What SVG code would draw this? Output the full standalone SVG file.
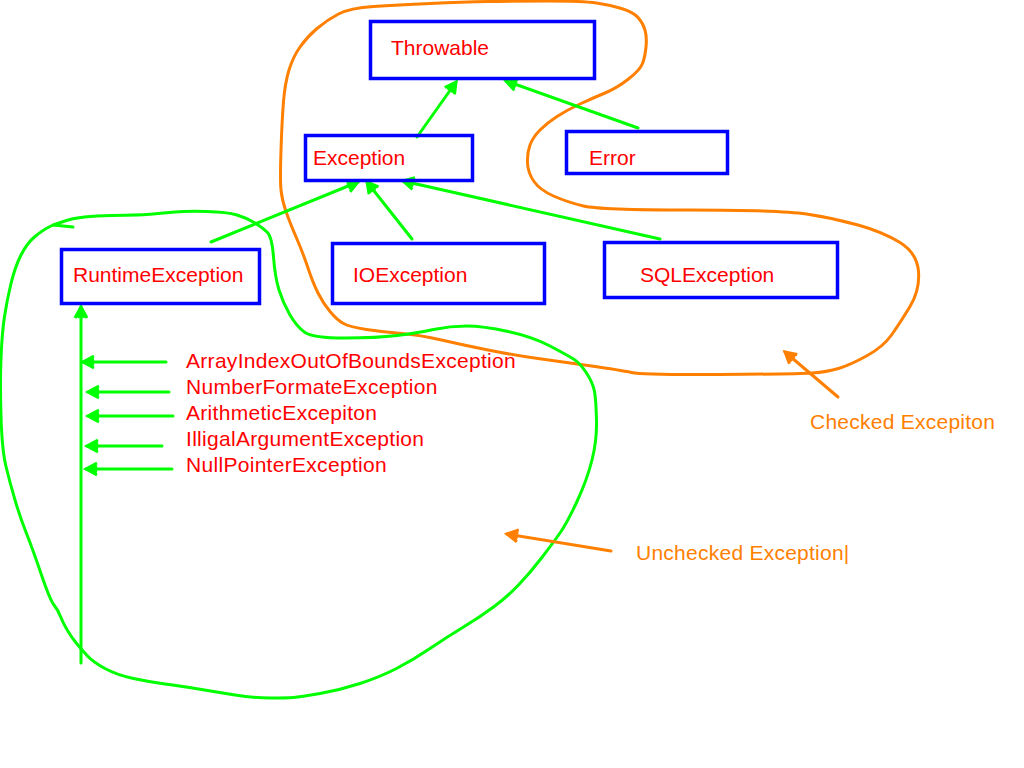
<svg xmlns="http://www.w3.org/2000/svg" width="1024" height="768" viewBox="0 0 1024 768">
<style>
.box{fill:none;stroke:#0000ff;stroke-width:3.5}
.lbl{font-family:"Liberation Sans",Arial,sans-serif;font-size:21px;fill:#ff0000}
.lst{letter-spacing:0.3px}
.note{font-family:"Liberation Sans",Arial,sans-serif;font-size:21px;fill:#ff8000;letter-spacing:0.25px}
.g{fill:none;stroke:#00ff00;stroke-width:3;stroke-linejoin:round;stroke-linecap:round}
.o{fill:none;stroke:#ff8000;stroke-width:3;stroke-linejoin:round;stroke-linecap:round}
</style>
<defs>
<marker id="ag" markerUnits="userSpaceOnUse" viewBox="-14 -8 16 16" refX="0" refY="0" markerWidth="16" markerHeight="16" orient="auto" overflow="visible">
<path d="M-11,-6 L0,0 L-11,6 M-11,-3 L-2,0 L-11,3" fill="none" stroke="#00ff00" stroke-width="3" stroke-linejoin="miter"/>
</marker>
<marker id="ao" markerUnits="userSpaceOnUse" viewBox="-14 -8 16 16" refX="0" refY="0" markerWidth="16" markerHeight="16" orient="auto" overflow="visible">
<path d="M-11,-6 L0,0 L-11,6 M-11,-3 L-2,0 L-11,3" fill="none" stroke="#ff8000" stroke-width="3" stroke-linejoin="miter"/>
</marker>
</defs>
<rect width="1024" height="768" fill="#ffffff"/>

<g id="regions">
<path class="o" d="M286,211.5 Q282,200 281,190 Q280,180 281,150 Q282,120 283.5,101.5 Q285,83 289,70 Q293,57 300,47 Q307,37 317,28.5 Q327,20 338.5,14 Q350,8 373.5,6.5 Q397,5 430,3.5 Q463,2 488,1.5 Q513,1 548,1 Q583,1 596.5,3 Q610,5 621.5,8.5 Q633,12 638,17.5 Q643,23 645,30 Q647,37 646,47 Q645,57 642.5,63.5 Q640,70 628.5,79 Q617,88 605,93 Q593,98 580,104 Q567,110 557,116.5 Q547,123 540,130 Q533,137 530,145 Q527,153 527.5,163 Q528,173 534,181.5 Q540,190 553.5,196 Q567,202 583.5,206 Q600,210 690,210 Q780,210 806.5,214 Q833,218 858,225 Q883,232 900,242.5 Q917,253 918.5,271.5 Q920,290 910,306.5 Q900,323 891.5,335 Q883,347 866.5,356 Q850,365 838.5,368.5 Q827,372 812,373 Q797,374 720,374.5 Q643,375 631.5,372.5 Q620,370 591.5,366 Q563,362 538,358.5 Q513,355 488,350 Q463,345 441.5,340 Q420,335 401.5,333.5 Q383,332 366.5,329.5 Q350,327 343.5,323.5 Q337,320 330,311.5 Q323,303 318,293 Q313,283 308,268 Q303,253 296.5,238 Q290,223 286,211.5 Z"/>
<path class="g" d="M73,227 L53,225 L48,227.5 Q43,230 35,236.5 Q27,243 21,255 Q15,267 11,283.5 Q7,300 4.5,316.5 Q2,333 1,358 Q0,383 1,416.5 Q2,450 6,466.5 Q10,483 15,500 Q20,517 26.5,533.5 Q33,550 41.5,575 Q50,600 54,605 Q58,610 60.5,616.5 Q63,623 67.5,630.5 Q72,638 77,644 Q82,650 87.5,656 Q93,662 105,668.5 Q117,675 133.5,678.5 Q150,682 165,684 Q180,686 198.5,689 Q217,692 235,695 Q253,698 270,698 Q287,698 293.5,697.5 Q300,697 320,693.5 Q340,690 360,683.5 Q380,677 396.5,668.5 Q413,660 430,648.5 Q447,637 463.5,627 Q480,617 493.5,607 Q507,597 518.5,585 Q530,573 541.5,558 Q553,543 560,533 Q567,523 577,501.5 Q587,480 592,460 Q597,440 596.5,420 Q596,400 594.5,391.5 Q593,383 586.5,373 Q580,363 573.5,359 Q567,355 550,346 Q533,337 508,331.5 Q483,326 466.5,326 Q450,326 433.5,329.5 Q417,333 397,335.5 Q377,338 345,338 Q313,338 305,332.5 Q297,327 290,315 Q283,303 279,290 Q275,277 273.5,257 Q272,237 267.5,232.5 Q263,228 255,223 Q247,218 237,215 Q227,212 207,211.5 Q187,211 175,212 Q163,213 153,214 Q143,215 111.5,215.5 Q80,216 66.5,220.5 L53,225"/>
</g>

<g id="connectors">
<line class="g" x1="417" y1="137" x2="456" y2="82" marker-end="url(#ag)"/>
<line class="g" x1="638" y1="128" x2="506" y2="81" marker-end="url(#ag)"/>
<line class="g" x1="211" y1="242" x2="358" y2="182" marker-end="url(#ag)"/>
<line class="g" x1="412" y1="239" x2="367" y2="182" marker-end="url(#ag)"/>
<line class="g" x1="660" y1="239" x2="403" y2="181" marker-end="url(#ag)"/>
<line class="g" x1="81" y1="663" x2="81" y2="307" marker-end="url(#ag)"/>
<line class="g" x1="166" y1="362" x2="83" y2="362" marker-end="url(#ag)"/>
<line class="g" x1="169" y1="392" x2="88" y2="392" marker-end="url(#ag)"/>
<line class="g" x1="173" y1="416" x2="88" y2="416" marker-end="url(#ag)"/>
<line class="g" x1="162" y1="446" x2="87" y2="446" marker-end="url(#ag)"/>
<line class="g" x1="172" y1="469" x2="86" y2="469" marker-end="url(#ag)"/>
<line class="o" x1="838" y1="397" x2="785" y2="352" marker-end="url(#ao)"/>
<line class="o" x1="611" y1="551" x2="507" y2="534" marker-end="url(#ao)"/>
</g>

<g id="throwable"><rect class="box" x="370.5" y="21.5" width="224" height="57"/><text class="lbl" x="391" y="55">Throwable</text></g>
<g id="exception"><rect class="box" x="305.5" y="135.5" width="167" height="45"/><text class="lbl" x="313" y="165">Exception</text></g>
<g id="error"><rect class="box" x="566.5" y="131.5" width="161" height="42"/><text class="lbl" x="589" y="165">Error</text></g>
<g id="runtimeexception"><rect class="box" x="61.5" y="249.5" width="198" height="54"/><text class="lbl" x="73" y="282">RuntimeException</text></g>
<g id="ioexception"><rect class="box" x="332.5" y="243.5" width="212" height="60"/><text class="lbl" x="353" y="282">IOException</text></g>
<g id="sqlexception"><rect class="box" x="604.5" y="242.5" width="233" height="55"/><text class="lbl" x="640" y="282">SQLException</text></g>

<g id="runtime-list">
<text class="lbl lst" x="186" y="368">ArrayIndexOutOfBoundsException</text>
<text class="lbl lst" x="186" y="394">NumberFormateException</text>
<text class="lbl lst" x="186" y="420">ArithmeticExcepiton</text>
<text class="lbl lst" x="186" y="446">IlligalArgumentException</text>
<text class="lbl lst" x="186" y="472">NullPointerException</text>
</g>

<g id="notes">
<text class="note" x="810" y="429">Checked Excepiton</text>
<text class="note" x="636" y="560">Unchecked Exception|</text>
</g>
</svg>
